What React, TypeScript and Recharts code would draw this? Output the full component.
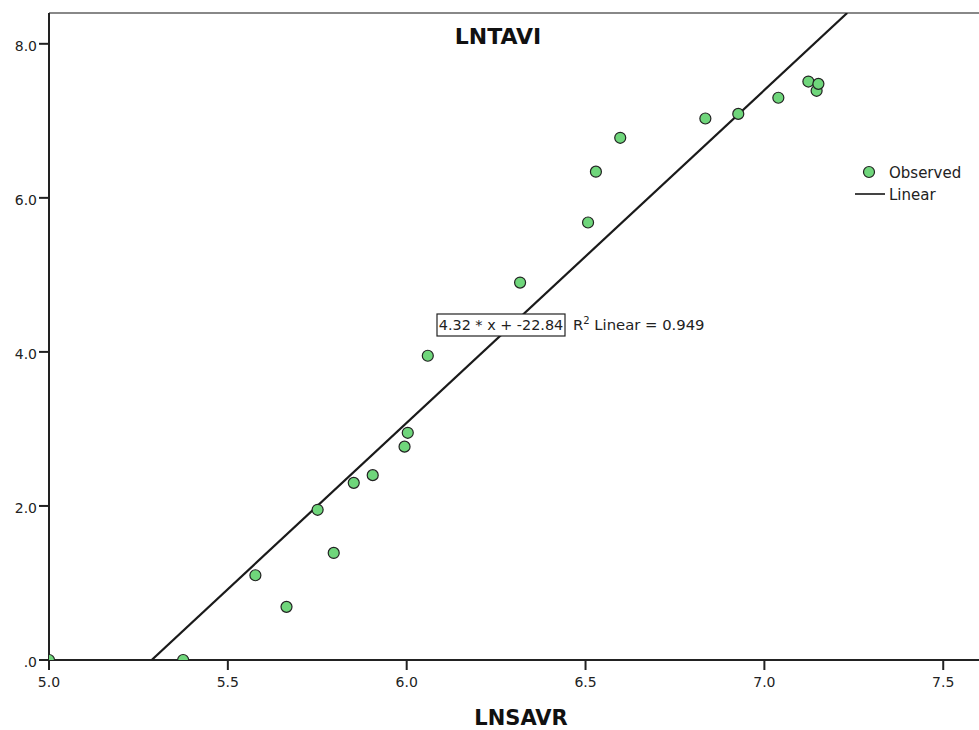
import { ScatterChart, Scatter, XAxis, YAxis, ReferenceLine } from 'recharts';

// observed points
const lnsavr = [5.0, 5.375, 5.577, 5.664, 5.751, 5.796, 5.852, 5.905, 5.994, 6.003, 6.059, 6.317, 6.507, 6.529, 6.597, 6.835, 6.927, 7.039, 7.123, 7.146, 7.151];
const lntavi = [0.0, 0.0, 1.1, 0.69, 1.95, 1.39, 2.3, 2.4, 2.77, 2.95, 3.95, 4.9, 5.68, 6.34, 6.78, 7.03, 7.09, 7.3, 7.51, 7.39, 7.48];

// fitted line from the annotation
const slope = 4.32;
const intercept = -22.84;

const xTicks = [5.0, 5.5, 6.0, 6.5, 7.0, 7.5];
const yTicks = [0, 2, 4, 6, 8];
const xDomain = [5.0, 7.6];
const yDomain = [0, 8.4];

const observed = lnsavr.map((x, i) => ({ x, y: lntavi[i] }));
const fitLine = [
  { x: (yDomain[0] - intercept) / slope, y: yDomain[0] },
  { x: (yDomain[1] - intercept) / slope, y: yDomain[1] },
];

const FONT = '"DejaVu Sans", Verdana, sans-serif';
const GREEN = '#6fd67b';
const tickStyle = { fontFamily: FONT, fontSize: '14px', fill: '#222' };

const Dot = (props: any) => {
  const { cx, cy } = props;
  if (cx == null || cy == null) return null;
  return <circle cx={cx} cy={cy} r={5.5} fill={GREEN} stroke="#222" strokeWidth={1.2} />;
};

const XTick = (props: any) => {
  const { x, y, payload } = props;
  return (
    <text x={x} y={y + 15} textAnchor="middle" style={tickStyle}>
      {Number(payload.value).toFixed(1)}
    </text>
  );
};

const YTick = (props: any) => {
  const { x, y, payload } = props;
  const v = Number(payload.value);
  return (
    <text x={x} y={y + 7} textAnchor="end" style={tickStyle}>
      {v === 0 ? '.0' : v.toFixed(1)}
    </text>
  );
};

export default function App() {
  return (
    <div style={{ position: 'absolute', left: 0, top: 0, width: 979, height: 730, background: '#fff', fontFamily: FONT }}>
      <ScatterChart width={979} height={730} margin={{ top: 13, right: 0, bottom: 0, left: 0 }}>
        <XAxis
          type="number"
          dataKey="x"
          domain={xDomain}
          ticks={xTicks}
          allowDataOverflow
          height={70}
          tickSize={10}
          tickMargin={2}
          stroke="#222"
          strokeWidth={2}
          tick={(p: any) => <XTick {...p} />}
        />
        <YAxis
          type="number"
          dataKey="y"
          domain={yDomain}
          ticks={yTicks}
          allowDataOverflow
          width={49}
          tickSize={10}
          tickMargin={2}
          stroke="#222"
          strokeWidth={2}
          tick={(p: any) => <YTick {...p} />}
        />
        <ReferenceLine y={yDomain[1]} stroke="#888" strokeWidth={2} />
        <Scatter
          data={fitLine}
          line={{ stroke: '#1a1a1a', strokeWidth: 2.2 }}
          shape={() => null}
          isAnimationActive={false}
        />
        <Scatter data={observed} shape={Dot} isAnimationActive={false} />
      </ScatterChart>
      <svg width={979} height={730} style={{ position: 'absolute', left: 0, top: 0, pointerEvents: 'none' }}>
        <text x={498} y={44} textAnchor="middle" fontFamily={FONT} fontWeight="bold" fontSize={22} fill="#111">LNTAVI</text>
        <text x={521} y={725} textAnchor="middle" fontFamily={FONT} fontWeight="bold" fontSize={21} fill="#111">LNSAVR</text>
        <rect x={437} y={314} width={128} height={22} fill="#fff" stroke="#222" strokeWidth={1.2} />
        <text x={501} y={330} textAnchor="middle" fontFamily={FONT} fontSize={14.4} fill="#222">4.32 * x + -22.84</text>
        <text x={573} y={330} fontFamily={FONT} fontSize={14.8} fill="#222">
          R<tspan dy={-6} fontSize={10}>2</tspan><tspan dy={6}> Linear = 0.949</tspan>
        </text>
        <circle cx={869} cy={172} r={5.5} fill={GREEN} stroke="#222" strokeWidth={1.2} />
        <text x={889} y={178} fontFamily={FONT} fontSize={15} fill="#222">Observed</text>
        <line x1={855} y1={194} x2={885} y2={194} stroke="#444" strokeWidth={2} />
        <text x={889} y={200} fontFamily={FONT} fontSize={15} fill="#222">Linear</text>
      </svg>
    </div>
  );
}
